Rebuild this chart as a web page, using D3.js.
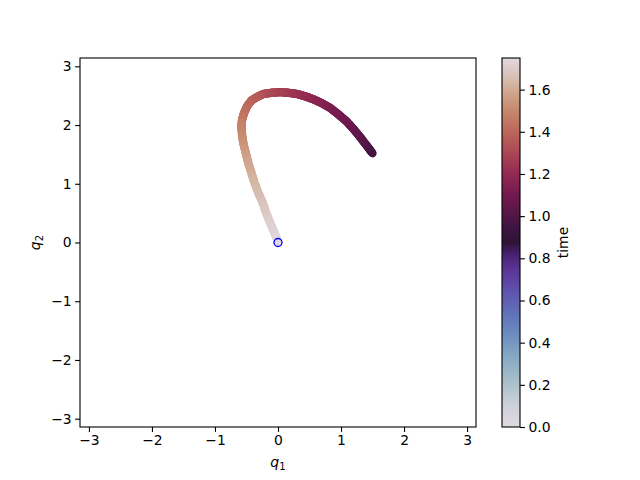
<!DOCTYPE html>
<html><head><meta charset="utf-8">
<script src="https://cdn.jsdelivr.net/npm/d3@7"></script>
<style>body{margin:0;background:#fff}svg{display:block;font-family:"DejaVu Sans",sans-serif}</style>
</head><body><svg id="c" width="640" height="480"></svg>
<script>
// trajectory: q1, q2, time
const q1 = [1.50, 1.40, 1.30, 1.20, 1.09, 0.96, 0.83, 0.70, 0.56, 0.43, 0.30, 0.16, 0.03, -0.10, -0.23, -0.33, -0.42, -0.49, -0.54, -0.57, -0.58, -0.57, -0.55, -0.51, -0.47, -0.42, -0.37, -0.31, -0.24, -0.19, -0.13, -0.07, -0.02, 0.00];
const q2 = [1.52, 1.66, 1.80, 1.93, 2.06, 2.18, 2.29, 2.37, 2.44, 2.49, 2.53, 2.55, 2.56, 2.55, 2.53, 2.48, 2.42, 2.32, 2.20, 2.09, 1.97, 1.83, 1.69, 1.52, 1.35, 1.18, 1.01, 0.84, 0.67, 0.51, 0.35, 0.20, 0.07, 0.00];
const time = [0.95, 0.99, 1.03, 1.055, 1.08, 1.10, 1.12, 1.145, 1.17, 1.195, 1.22, 1.245, 1.27, 1.295, 1.32, 1.35, 1.38, 1.405, 1.43, 1.455, 1.48, 1.505, 1.53, 1.555, 1.58, 1.605, 1.63, 1.65, 1.67, 1.69, 1.71, 1.725, 1.74, 1.75];
const target = [0, 0];
const xTicks = [-3, -2, -1, 0, 1, 2, 3];
const yTicks = [-3, -2, -1, 0, 1, 2, 3];
const cbTicks = [0.0, 0.2, 0.4, 0.6, 0.8, 1.0, 1.2, 1.4, 1.6];
const tMax = 1.75;
// approximate twilight colormap stops
const twStops = [
  [0.00, "#e2d9e2"], [0.06, "#ccd1da"], [0.12, "#a9c0ca"], [0.19, "#86a9c4"],
  [0.25, "#6b8dbe"], [0.31, "#6070b9"], [0.37, "#5f52ad"], [0.43, "#5a3394"],
  [0.47, "#45206d"], [0.50, "#2f1436"], [0.54, "#3d1440"], [0.58, "#561747"],
  [0.63, "#74194f"], [0.69, "#952b53"], [0.75, "#ad4b55"], [0.81, "#be6b5c"],
  [0.87, "#c98f73"], [0.93, "#d4b5a2"], [1.00, "#e2d9e2"]
];

const svg = d3.select("#c");
const L = 80, R = 476, T = 58, B = 427;
const x = d3.scaleLinear().domain([-Math.PI, Math.PI]).range([L, R]);
const y = d3.scaleLinear().domain([-Math.PI, Math.PI]).range([B, T]);
const cmap = d3.scaleLinear().domain(twStops.map(d => d[0] * tMax)).range(twStops.map(d => d[1])).interpolate(d3.interpolateRgb).clamp(true);

const g = svg.append("g");
const pts = q1.map((v, i) => ({x: v, y: q2[i], t: time[i]}));
for (let i = 0; i < pts.length - 1; i++) {
  const a = pts[i], b = pts[i + 1];
  const n = 8;
  for (let k = 0; k < n; k++) {
    const f0 = k / n, f1 = (k + 1) / n;
    g.append("line")
      .attr("x1", x(a.x + (b.x - a.x) * f0)).attr("y1", y(a.y + (b.y - a.y) * f0))
      .attr("x2", x(a.x + (b.x - a.x) * f1)).attr("y2", y(a.y + (b.y - a.y) * f1))
      .attr("stroke", cmap(a.t + (b.t - a.t) * (f0 + f1) / 2))
      .attr("stroke-width", 8.3).attr("stroke-linecap", "round");
  }
}
g.append("circle").attr("cx", x(target[0])).attr("cy", y(target[1])).attr("r", 4)
  .attr("fill", "none").attr("stroke", "#0000ff").attr("stroke-width", 1.3);

const xa = svg.append("g").attr("transform", `translate(0,${B})`)
  .call(d3.axisBottom(x).tickValues(xTicks).tickSize(4.9).tickPadding(3.5).tickFormat(d => String(d).replace("-", "\u2212")));
const ya = svg.append("g").attr("transform", `translate(${L},0)`)
  .call(d3.axisLeft(y).tickValues(yTicks).tickSize(4.9).tickPadding(3.5).tickFormat(d => String(d).replace("-", "\u2212")));
[xa, ya].forEach(a => {
  a.select(".domain").remove();
  a.selectAll("text").attr("font-size", 13.9).attr("fill", "#000").attr("font-family", "DejaVu Sans");
  a.selectAll("line").attr("stroke", "#000").attr("stroke-width", 1.1);
});
svg.append("rect").attr("x", L).attr("y", T).attr("width", R - L).attr("height", B - T)
  .attr("fill", "none").attr("stroke", "#000").attr("stroke-width", 1.1);

svg.append("text").attr("x", (L + R) / 2).attr("y", 467).attr("text-anchor", "middle")
  .attr("font-size", 14).attr("font-family", "DejaVu Sans").attr("font-style", "italic")
  .html('q<tspan font-style="normal" font-size="10" dy="3">1</tspan>');
svg.append("text").attr("transform", `translate(40,${(T + B) / 2}) rotate(-90)`).attr("text-anchor", "middle")
  .attr("font-size", 14).attr("font-family", "DejaVu Sans").attr("font-style", "italic")
  .html('q<tspan font-style="normal" font-size="10" dy="3">2</tspan>');

// colorbar
const cbL = 502, cbR = 520;
const cy = d3.scaleLinear().domain([0, tMax]).range([B, T]);
const defs = svg.append("defs");
const grad = defs.append("linearGradient").attr("id", "cb").attr("x1", 0).attr("y1", 1).attr("x2", 0).attr("y2", 0);
twStops.forEach(s => grad.append("stop").attr("offset", s[0]).attr("stop-color", s[1]));
svg.append("rect").attr("x", cbL).attr("y", T).attr("width", cbR - cbL).attr("height", B - T).attr("fill", "url(#cb)");
const ca = svg.append("g").attr("transform", `translate(${cbR},0)`)
  .call(d3.axisRight(cy).tickValues(cbTicks).tickSize(4.9).tickPadding(3.5).tickFormat(d3.format(".1f")));
ca.select(".domain").remove();
ca.selectAll("text").attr("font-size", 13.9).attr("fill", "#000").attr("font-family", "DejaVu Sans");
ca.selectAll("line").attr("stroke", "#000").attr("stroke-width", 1.1);
svg.append("rect").attr("x", cbL).attr("y", T).attr("width", cbR - cbL).attr("height", B - T)
  .attr("fill", "none").attr("stroke", "#000").attr("stroke-width", 1.1);
svg.append("text").attr("transform", `translate(568,${(T + B) / 2}) rotate(-90)`).attr("text-anchor", "middle")
  .attr("font-size", 13.9).attr("font-family", "DejaVu Sans").text("time");
</script></body></html>
